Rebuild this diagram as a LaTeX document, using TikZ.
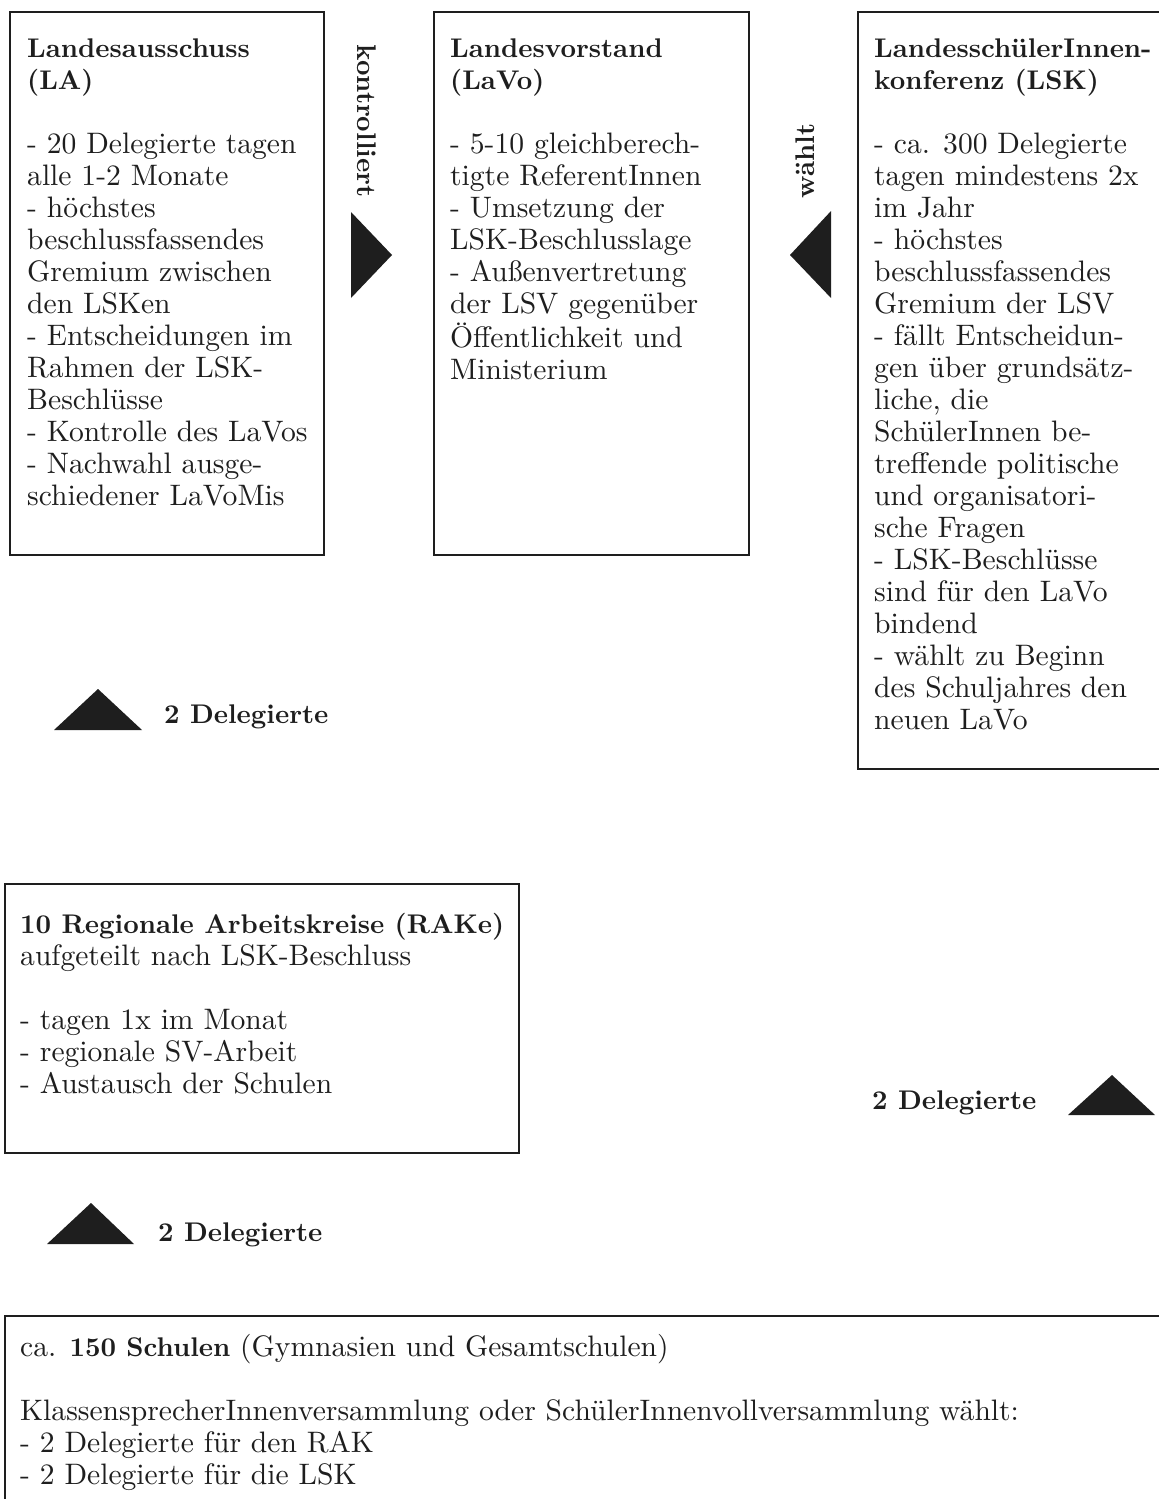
\documentclass[tikz,border=0pt]{standalone}
\usepackage{fontspec}
\setmainfont{lmroman10-regular.otf}[BoldFont=lmroman10-bold.otf]
\usepackage{tikz}
\usetikzlibrary{positioning}
\definecolor{ink}{HTML}{1E1E1E}
\tikzset{box/.style={draw=ink, line width=2.4pt}}
\tikzset{txt/.style={anchor=base west, inner sep=0pt, text=ink, font=\fontsize{29.6}{32}\selectfont}}
\tikzset{lbl/.style={inner sep=0pt, text=ink, font=\fontsize{27}{32}\selectfont\bfseries}}
\tikzset{pfeil/.style={fill=ink}}
\newcommand{\hd}[1]{{\fontsize{27}{32}\selectfont\bfseries #1}}
\newcommand{\zeilen}[1]{\begin{tabular}[t]{@{}l@{}}#1\end{tabular}}

\begin{document}
\begin{tikzpicture}[x=1pt, y=-1pt]
		\useasboundingbox (0,0) rectangle (1159,1499);
		\clip (0,0) rectangle (1159,1499);

		\draw[box] (10,12) rectangle (324,555);
		\draw[box] (434,12) rectangle (749,555);
		\draw[box] (858,12) rectangle (1175,769);
		\draw[box] (5,884) rectangle (519,1153);
		\draw[box] (5,1316) rectangle (1175,1515);

		\begin{scope}[every node/.append style={txt}]
			\node (la) at (27,57) {\zeilen{\hd{Landesausschuss}\\ \hd{(LA)}\\ \\ - 20 Delegierte tagen\\ alle 1-2 Monate\\ - höchstes\\ beschlussfassendes\\ Gremium zwischen\\ den LSKen\\ - Entscheidungen im\\ Rahmen der LSK-\\ Beschlüsse\\ - Kontrolle des LaVos\\ - Nachwahl ausge-\\ schiedener LaVoMis}};
			\node (lavo) at (450,57) {\zeilen{\hd{Landesvorstand}\\ \hd{(LaVo)}\\ \\ - 5-10 gleichberech-\\ tigte ReferentInnen\\ - Umsetzung der\\ LSK-Beschlusslage\\ - Außenvertretung\\ der LSV gegenüber\\ Öffentlichkeit und\\ Ministerium}};
			\node (lsk) at (874,57) {\zeilen{\hd{LandesschülerInnen-}\\ \hd{konferenz (LSK)}\\ \\ - ca. 300 Delegierte\\ tagen mindestens 2x\\ im Jahr\\ - höchstes\\ beschlussfassendes\\ Gremium der LSV\\ - fällt Entscheidun-\\ gen über grundsätz-\\ liche, die\\ SchülerInnen be-\\ treffende politische\\ und organisatori-\\ sche Fragen\\ - LSK-Beschlüsse\\ sind für den LaVo\\ bindend\\ - wählt zu Beginn\\ des Schuljahres den\\ neuen LaVo}};
			\node (rak) at (20,933) {\zeilen{\hd{10 Regionale Arbeitskreise (RAKe)}\\ aufgeteilt nach LSK-Beschluss\\ \\ - tagen 1x im Monat\\ - regionale SV-Arbeit\\ - Austausch der Schulen}};
			\node (schulen) at (20,1356) {\zeilen{ca. \hd{150 Schulen} (Gymnasien und Gesamtschulen)\\ \\ KlassensprecherInnenversammlung oder SchülerInnenvollversammlung wählt:\\ - 2 Delegierte für den RAK\\ - 2 Delegierte für die LSK}};
		\end{scope}

		\node[lbl, rotate=-90] (kontrolliert) at (367,121) {kontrolliert};
		\node[lbl, rotate=90] (waehlt) at (805,161) {wählt};
		\node[lbl, anchor=base west] (delLA) at (164,723) {2 Delegierte};
		\node[lbl, anchor=base west] (delLSK) at (872,1109) {2 Delegierte};
		\node[lbl, anchor=base west] (delRAK) at (158,1241) {2 Delegierte};

		\fill[pfeil] (351,212) -- (392,255) -- (351,298) -- cycle;
		\fill[pfeil] (831,211) -- (790,255) -- (831,298) -- cycle;
		\fill[pfeil] (54,730) -- (98,689) -- (142,730) -- cycle;
		\fill[pfeil] (1068,1115) -- (1112,1075) -- (1155,1115) -- cycle;
		\fill[pfeil] (47,1244) -- (91,1203) -- (134,1244) -- cycle;
	\end{tikzpicture}
\end{document}
